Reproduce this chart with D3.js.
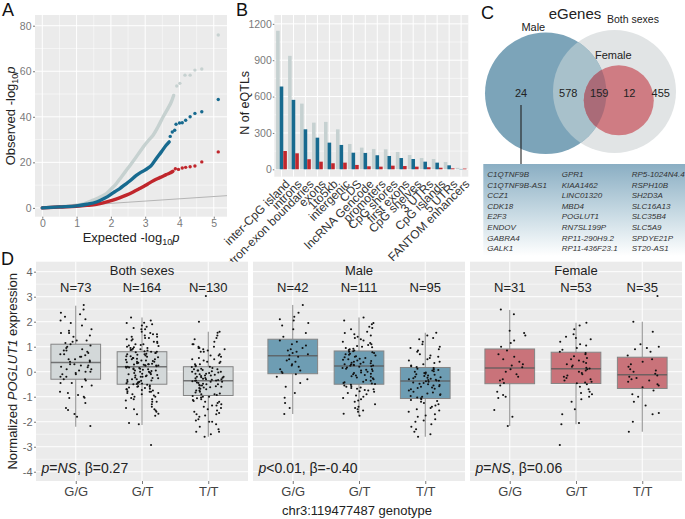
<!DOCTYPE html>
<html><head><meta charset="utf-8">
<script src="https://cdn.jsdelivr.net/npm/d3@7"></script>
<style>body{margin:0;background:#fff;} svg{display:block;}</style>
</head><body>
<script>
// ---------------- DATA ----------------
// Panel A: QQ plot (expected, observed) -log10 p
const qqBothDense = [[0,0],[0.5,0.5],[1.0,1.15],[1.25,2.0],[1.48,3.4],[1.7,4.9],[1.87,6.3],[2.0,8.2],[2.16,10.7],[2.3,13.5],[2.45,16.5],[2.6,19.5],[2.74,22.4],[2.86,25],[2.98,27.5],[3.1,29.7],[3.23,31.9],[3.37,35.5],[3.52,39.9],[3.66,43.6],[3.76,46.5],[3.83,49.4]];
const qqBothTail = [[3.92,53.5],[4.01,54.7],[4.16,58.3],[4.31,58.3],[4.45,60.5],[4.65,61],[5.13,75.9]];
const qqMaleDense = [[0,0],[0.5,0.45],[1.0,0.9],[1.3,1.6],[1.58,2.6],[1.8,4.1],[1.97,5.6],[2.1,7],[2.26,8.5],[2.4,10.1],[2.55,11.8],[2.74,14.3],[2.86,15.5],[2.98,16.5],[3.08,17.5],[3.18,18.7],[3.32,21.6],[3.47,24.6],[3.61,27.5],[3.7,29]];
const qqMaleTail = [[3.73,31.4],[3.79,33.3],[3.86,34.1],[3.9,36.7],[4.0,37.3],[4.08,37.4],[4.18,38.5],[4.31,40],[4.45,41.5],[4.65,42.2],[5.13,47.6]];
const qqFemaleDense = [[0,0],[0.5,0.4],[1.0,0.7],[1.3,1.1],[1.58,1.6],[1.8,2.3],[2.06,3.4],[2.25,4.4],[2.45,5.6],[2.65,7],[2.84,8.5],[3.0,9.8],[3.13,11],[3.25,12],[3.37,12.9],[3.5,13.8],[3.61,14.6],[3.72,15.3],[3.81,16.1]];
const qqFemaleTail = [[3.88,17.2],[3.97,16.9],[4.08,17.5],[4.18,17.8],[4.31,18.1],[4.45,18.4],[4.65,20.2],[5.13,24.6]];
const qqXTicks = [0,1,2,3,4,5];
const qqYTicks = [0,20,40,60,80];

// Panel B: eQTL counts per region
const regions = ["inter-CpG island","introns","intron-exon boundaries","exons","1to5kb","intergenic","CDS","lncRNA Gencode","promoters","CpG shores","first exons","CpG shelves","3 UTRs","CpG islands","5 UTRs","FANTOM enhancers"];
const eqtlBoth   = [1143,936,542,385,391,330,209,179,168,165,143,118,93,85,60,12];
const eqtlMale   = [683,573,330,261,220,201,137,135,116,110,93,85,63,55,33,3];
const eqtlFemale = [151,132,83,63,50,55,36,25,22,30,27,22,17,13,8,6];
const eqtlYTicks = [0,300,600,900,1200];

// Panel C: Venn counts and male-specific genes
const vennCounts = {maleOnly:24, maleBoth:578, allThree:159, femaleBoth:12, bothOnly:455};
const vennLabels = ["eGenes","Male","Both sexes","Female"];
const maleGenes1 = ["C1QTNF9B","C1QTNF9B-AS1","CCZ1","CDK18","E2F3","ENDOV","GABRA4","GALK1"];
const maleGenes2 = ["GPR1","KIAA1462","LINC01320","MBD4","POGLUT1","RN7SL199P","RP11-290H9.2","RP11-436F23.1"];
const maleGenes3 = ["RP5-1024N4.4","RSPH10B","SH2D3A","SLC16A13","SLC35B4","SLC5A9","SPDYE21P","ST20-AS1"];

// Panel D: POGLUT1 expression by genotype
const genotypes = ["G/G","G/T","T/T"];
const maleGG = [2.67,2.36,2.2,2.1,2.05,1.95,1.85,1.7,1.55,1.4,1.25,1.2,1.1,1.05,0.95,0.9,0.85,0.8,0.75,0.7,0.66,0.6,0.5,0.45,0.4,0.3,0.25,0.2,0.1,0.05,0.0,-0.05,-0.1,-0.2,-0.3,-0.45,-0.6,-0.85,-1.04,-1.25,-1.45,-1.69];
const maleGT = [2.17,2.05,1.95,1.9,1.8,1.75,1.7,1.6,1.55,1.5,1.45,1.4,1.35,1.3,1.25,1.2,1.15,1.1,1.07,1.03,1.0,0.98,0.95,0.92,0.9,0.87,0.85,
  0.82,0.8,0.78,0.75,0.72,0.7,0.68,0.65,0.62,0.6,0.58,0.55,0.52,0.5,0.48,0.45,0.43,0.4,0.38,0.36,0.34,0.32,0.3,0.29,0.28,0.26,0.25,0.24,
  0.22,0.2,0.17,0.15,0.12,0.1,0.08,0.05,0.03,0.0,-0.03,-0.05,-0.08,-0.1,-0.13,-0.15,-0.18,-0.2,-0.23,-0.26,-0.3,-0.33,-0.36,-0.4,-0.42,-0.45,-0.47,-0.49,
  -0.52,-0.55,-0.58,-0.6,-0.63,-0.65,-0.68,-0.7,-0.73,-0.75,-0.78,-0.8,-0.85,-0.9,-0.95,-1.0,-1.05,-1.1,-1.15,-1.2,-1.3,-1.4,-1.45,-1.5,-1.55,-1.6,-1.68,-1.76];
const maleTT = [1.56,1.45,1.35,1.3,1.2,1.1,1.0,0.95,0.9,0.85,0.8,0.7,0.65,0.6,0.55,0.5,0.45,0.4,0.35,0.3,0.25,0.22,0.19,
  0.15,0.12,0.1,0.07,0.05,0.02,0.0,-0.03,-0.05,-0.08,-0.1,-0.12,-0.15,-0.17,-0.2,-0.22,-0.24,-0.26,-0.28,-0.3,-0.32,-0.33,-0.35,-0.36,
  -0.38,-0.4,-0.43,-0.45,-0.48,-0.5,-0.53,-0.55,-0.58,-0.6,-0.63,-0.65,-0.68,-0.7,-0.75,-0.8,-0.83,-0.87,-0.9,-0.93,-0.97,-1.0,-1.03,-1.06,
  -1.1,-1.13,-1.17,-1.2,-1.25,-1.3,-1.35,-1.4,-1.45,-1.5,-1.55,-1.6,-1.7,-1.75,-1.8,-1.9,-1.95,-2.0,-2.1,-2.2,-2.3,-2.4,-2.5,-2.6];
const femaleGG = [2.49,2.3,1.64,1.55,1.45,1.25,1.15,1.0,0.85,0.7,0.6,0.5,0.4,0.3,0.25,0.18,0.1,0.0,-0.1,-0.2,-0.3,-0.35,-0.45,-0.55,-0.8,-0.93,-1.0,-1.05,-1.53,-1.8,-2.17];
const femaleGT = [1.96,1.85,1.7,1.5,1.4,1.35,1.3,1.2,1.1,1.05,0.95,0.88,0.8,0.75,0.7,0.62,0.55,0.5,0.45,0.4,0.35,0.3,0.25,0.2,0.16,0.13,
  0.1,0.05,0.0,-0.05,-0.1,-0.15,-0.2,-0.25,-0.3,-0.35,-0.4,-0.43,-0.46,-0.5,-0.6,-0.7,-0.8,-0.85,-0.9,-1.0,-1.1,-1.2,-1.5,-1.7,-2.05,-2.1,-2.93];
const femaleTT = [3.03,2.0,1.6,1.1,1.0,0.95,0.9,0.8,0.65,0.5,0.4,0.3,0.2,0.1,0.05,0.0,-0.08,-0.15,-0.2,-0.25,-0.3,-0.35,-0.4,-0.5,-0.55,-0.62,-0.75,-0.9,-1.0,-1.2,-1.35,-1.65,-1.7,-2.0,-2.4];
// box statistics: [q1, median, q3, whiskerLow, whiskerHigh]
const boxBoth   = [[-0.3,0.37,1.1,-2.2,2.64],[-0.5,0.2,0.8,-2.13,2.17],[-0.95,-0.36,0.2,-2.6,1.6]];
const boxMale   = [[-0.08,0.64,1.3,-1.69,2.67],[-0.5,0.23,0.83,-1.76,2.17],[-1.07,-0.37,0.17,-2.6,1.56]];
const boxFemale = [[-0.48,0.15,0.91,-2.17,2.47],[-0.47,0.12,0.78,-2.1,1.96],[-0.67,-0.12,0.58,-2.4,2.0]];
const facetNames = ["Both sexes","Male","Female"];
const facetP = ["NS","<0.01","NS"];
const facetBeta = ["0.27","-0.40","0.06"];
const exprYTicks = [-4,-3,-2,-1,0,1,2,3,4];

// ---------------- DRAWING ----------------
const FONT = "'Liberation Sans', Arial, Helvetica, sans-serif";
const PANEL_BG = "#ebebeb";
const svg = d3.select("body").append("svg").attr("width",685).attr("height",519)
  .style("font-family", FONT);
svg.append("rect").attr("width",685).attr("height",519).attr("fill","#fff");

function panelBg(x0,x1,y0,y1){
  svg.append("rect").attr("x",x0).attr("y",y0).attr("width",x1-x0).attr("height",y1-y0).attr("fill",PANEL_BG);
}
function hgrid(ys, x0, x1, w){
  svg.append("g").selectAll("line").data(ys).join("line")
    .attr("x1",x0).attr("x2",x1).attr("y1",d=>d).attr("y2",d=>d)
    .attr("stroke","#fff").attr("stroke-width",w);
}
function vgrid(xs, y0, y1, w){
  svg.append("g").selectAll("line").data(xs).join("line")
    .attr("y1",y0).attr("y2",y1).attr("x1",d=>d).attr("x2",d=>d)
    .attr("stroke","#fff").attr("stroke-width",w);
}
function styleAxis(g, color, size){
  g.select(".domain").remove();
  g.selectAll(".tick line").attr("stroke","#555").attr("stroke-width",0.8);
  g.selectAll(".tick text").attr("fill",color).attr("font-size",size).attr("font-family",FONT);
}
function panelLetter(t,x,y){
  svg.append("text").attr("x",x).attr("y",y).attr("font-size",18).attr("fill","#111").text(t);
}

// ===== Panel A =====
{
  const x0=35,x1=227,y0=15,y1=216.7;
  const ax = d3.scaleLinear().domain([-0.213,5.385]).range([x0,x1]);
  const ay = d3.scaleLinear().domain([-3.86,84.7]).range([y1,y0]);
  panelBg(x0,x1,y0,y1);
  hgrid([10,30,50,70].map(ay), x0,x1,0.5);
  vgrid([0.5,1.5,2.5,3.5,4.5].map(ax), y0,y1,0.5);
  hgrid(qqYTicks.map(ay), x0,x1,1);
  vgrid(qqXTicks.map(ax), y0,y1,1);
  // reference line y = x
  svg.append("line").attr("x1",ax(0)).attr("y1",ay(0)).attr("x2",ax(5.385)).attr("y2",ay(5.385))
    .attr("stroke","#b5b5b5").attr("stroke-width",1);
  const line = d3.line().x(d=>ax(d[0])).y(d=>ay(d[1])).curve(d3.curveMonotoneX);
  const series = [
    {dense:qqBothDense, tail:qqBothTail, color:"#c6d1d0"},
    {dense:qqFemaleDense, tail:qqFemaleTail, color:"#c0262c"},
    {dense:qqMaleDense, tail:qqMaleTail, color:"#176a8f"}
  ];
  series.forEach(s=>{
    svg.append("path").attr("d",line(s.dense)).attr("fill","none").attr("stroke",s.color)
      .attr("stroke-width",3.4).attr("stroke-linecap","round").attr("stroke-linejoin","round");
    svg.append("g").selectAll("circle").data(s.tail).join("circle")
      .attr("cx",d=>ax(d[0])).attr("cy",d=>ay(d[1])).attr("r",1.7).attr("fill",s.color);
  });
  const gx = svg.append("g").attr("transform",`translate(0,${y1})`)
    .call(d3.axisBottom(ax).tickValues(qqXTicks).tickSize(2).tickPadding(1).tickFormat(d=>String(d)));
  styleAxis(gx,"#7a7a7a",10.5);
  const gy = svg.append("g").attr("transform",`translate(${x0},0)`)
    .call(d3.axisLeft(ay).tickValues(qqYTicks).tickSize(2).tickPadding(1.5).tickFormat(d=>String(d)));
  styleAxis(gy,"#7a7a7a",10.5);
  // titles
  const tx = svg.append("text").attr("x",131).attr("y",241.5).attr("text-anchor","middle").attr("font-size",13).attr("fill","#222");
  tx.append("tspan").text("Expected -log");
  tx.append("tspan").attr("dy",3).attr("font-size",9).text("10");
  tx.append("tspan").attr("dy",-3).attr("font-style","italic").text("p");
  const ty = svg.append("text").attr("transform",`translate(14.5,${(y0+y1)/2}) rotate(-90)`).attr("text-anchor","middle").attr("font-size",13).attr("fill","#222");
  ty.append("tspan").text("Observed -log");
  ty.append("tspan").attr("dy",3).attr("font-size",9).text("10");
  ty.append("tspan").attr("dy",-3).attr("font-style","italic").text("p");
  panelLetter("A",2,16);
}

// ===== Panel B =====
{
  const x0=274.3,x1=468.3,y0=15,y1=176.7;
  const bx = d3.scalePoint().domain(regions).range([x0,x1]).padding(0.6);
  const step = bx.step();
  const by = d3.scaleLinear().domain([-61,1273]).range([y1,y0]);
  panelBg(x0,x1,y0,y1);
  hgrid([150,450,750,1050].map(by), x0,x1,0.5);
  hgrid(eqtlYTicks.map(by), x0,x1,1);
  vgrid(regions.map(bx), y0,y1,1);
  const bw = step*0.3;
  const groups = [{vals:eqtlBoth,color:"#c6d1d1",off:-1},{vals:eqtlMale,color:"#176a8f",off:0},{vals:eqtlFemale,color:"#c1272d",off:1}];
  groups.forEach(gr=>{
    svg.append("g").selectAll("rect").data(regions).join("rect")
      .attr("x",(d)=>bx(d)+gr.off*bw-bw/2)
      .attr("width",bw)
      .attr("y",(d,i)=>by(gr.vals[i]))
      .attr("height",(d,i)=>by(0)-by(gr.vals[i]))
      .attr("fill",gr.color);
  });
  const gy = svg.append("g").attr("transform",`translate(${x0},0)`)
    .call(d3.axisLeft(by).tickValues(eqtlYTicks).tickSize(1.5).tickPadding(1).tickFormat(d=>String(d)));
  styleAxis(gy,"#7a7a7a",10.5);
  // rotated x labels
  svg.append("g").selectAll("text").data(regions).join("text")
    .attr("transform",d=>`translate(${bx(d)+3},${y1+2}) rotate(-45)`)
    .attr("text-anchor","end").attr("dy","0.72em").attr("font-size",12).attr("fill","#333").text(d=>d);
  svg.append("text").attr("transform",`translate(249,${(y0+y1)/2+7}) rotate(-90)`).attr("text-anchor","middle")
    .attr("font-size",12.5).attr("fill","#222").text("N of eQTLs");
  panelLetter("B",236,16);
}

// ===== Panel C =====
{
  const defs = svg.append("defs");
  const male = {cx:545.7, cy:93.3, r:60.7};
  const both = {cx:614.5, cy:91.5, r:61.5};
  const fem  = {cx:618.8, cy:100.3, r:35};
  defs.append("clipPath").attr("id","clipBoth").append("circle").attr("cx",both.cx).attr("cy",both.cy).attr("r",both.r);
  defs.append("clipPath").attr("id","clipMale").append("circle").attr("cx",male.cx).attr("cy",male.cy).attr("r",male.r);
  const grad = defs.append("linearGradient").attr("id","geneGrad").attr("x1",0).attr("y1",0).attr("x2",0).attr("y2",1);
  grad.append("stop").attr("offset","0%").attr("stop-color","#8aaec3");
  grad.append("stop").attr("offset","55%").attr("stop-color","#c9dbe4");
  grad.append("stop").attr("offset","100%").attr("stop-color","#ffffff");

  const circ = (c,fill,clip)=>{ const e = svg.append("circle").attr("cx",c.cx).attr("cy",c.cy).attr("r",c.r).attr("fill",fill); if(clip) e.attr("clip-path",`url(#${clip})`); };
  circ(both,"#e1e4e5");
  circ(male,"#7ca4b9");
  circ(male,"#a8c1cb","clipBoth");
  circ(fem,"#cf7c83");
  circ(fem,"#aa6b78","clipMale");

  const t = (x,y,txt,size)=>svg.append("text").attr("x",x).attr("y",y).attr("font-size",size).attr("text-anchor","middle").attr("fill","#222").text(txt);
  t(575,18.5,vennLabels[0],15);
  t(533.3,30.5,vennLabels[1],11);
  t(633,23.3,vennLabels[2],10.5);
  t(613.3,59,vennLabels[3],11);
  t(521,96.7,vennCounts.maleOnly,11);
  t(568.3,96.7,vennCounts.maleBoth,11);
  t(599.3,96.7,vennCounts.allThree,11);
  t(629.3,96.7,vennCounts.femaleBoth,11);
  t(660.7,96.7,vennCounts.bothOnly,11);

  svg.append("rect").attr("x",483.3).attr("y",164).attr("width",201.7).attr("height",92).attr("fill","url(#geneGrad)");
  svg.append("line").attr("x1",521).attr("x2",521).attr("y1",105).attr("y2",164).attr("stroke","#222").attr("stroke-width",1.1);
  const cols = [{g:maleGenes1,x:487.3},{g:maleGenes2,x:561.7},{g:maleGenes3,x:631.7}];
  cols.forEach(c=>{
    svg.append("g").selectAll("text").data(c.g).join("text")
      .attr("x",c.x).attr("y",(d,i)=>177.2+i*10.55).attr("font-size",8).attr("font-style","italic")
      .attr("fill","#333").text(d=>d);
  });
  panelLetter("C",481,19);
}

// ===== Panel D =====
{
  const y0=261.7,y1=481;
  const dy = d3.scaleLinear().domain([-4.37,4.4]).range([y1,y0]);
  const facets = [
    {name:facetNames[0], data:[maleGG.concat(femaleGG), maleGT.concat(femaleGT), maleTT.concat(femaleTT)], box:boxBoth, fill:"#d3d8d9", x0:36, x1:248},
    {name:facetNames[1], data:[maleGG, maleGT, maleTT], box:boxMale, fill:"#6e9db3", x0:253, x1:465},
    {name:facetNames[2], data:[femaleGG, femaleGT, femaleTT], box:boxFemale, fill:"#c9737a", x0:470, x1:682}
  ];
  const rng = d3.randomLcg(0.4242);
  facets.forEach((f,fi)=>{
    const fx = d3.scalePoint().domain(genotypes).range([f.x0,f.x1]).padding(0.6);
    const step = fx.step();
    panelBg(f.x0,f.x1,y0,y1);
    hgrid(d3.range(-4,4,1).map(v=>dy(v+0.5)), f.x0,f.x1,0.5);
    hgrid(exprYTicks.map(dy), f.x0,f.x1,1);
    vgrid(genotypes.map(fx), y0,y1,1);
    const bw = step*0.75;
    genotypes.forEach((g,gi)=>{
      const [q1,med,q3,lo,hi] = f.box[gi];
      const cx = fx(g);
      svg.append("line").attr("x1",cx).attr("x2",cx).attr("y1",dy(hi)).attr("y2",dy(q3)).attr("stroke","#8a8a8a").attr("stroke-width",1);
      svg.append("line").attr("x1",cx).attr("x2",cx).attr("y1",dy(q1)).attr("y2",dy(lo)).attr("stroke","#8a8a8a").attr("stroke-width",1);
      svg.append("rect").attr("x",cx-bw/2).attr("width",bw).attr("y",dy(q3)).attr("height",dy(q1)-dy(q3))
        .attr("fill",f.fill).attr("stroke","#858585").attr("stroke-width",1);
      svg.append("line").attr("x1",cx-bw/2).attr("x2",cx+bw/2).attr("y1",dy(med)).attr("y2",dy(med))
        .attr("stroke","#5a5a5a").attr("stroke-opacity",0.8).attr("stroke-width",1.6);
      svg.append("g").selectAll("circle").data(f.data[gi]).join("circle")
        .attr("cx",()=>cx+(rng()-0.5)*step*0.5).attr("cy",d=>dy(d)).attr("r",1.05).attr("fill","#111");
      svg.append("text").attr("x",cx).attr("y",292).attr("text-anchor","middle").attr("font-size",13).attr("fill","#222")
        .text("N="+f.data[gi].length);
    });
    svg.append("text").attr("x",(f.x0+f.x1)/2).attr("y",275).attr("text-anchor","middle").attr("font-size",13).attr("fill","#222").text(f.name);
    const pt = svg.append("text").attr("x",f.x0+5.5).attr("y",472.5).attr("font-size",14).attr("fill","#222");
    pt.append("tspan").attr("font-style","italic").text("p");
    if(facetP[fi]==="NS"){ pt.append("tspan").text("="); pt.append("tspan").attr("font-style","italic").text("NS"); }
    else pt.append("tspan").text(facetP[fi]);
    pt.append("tspan").text(", β="+facetBeta[fi]);
    const gx = svg.append("g").attr("transform",`translate(0,${y1})`)
      .call(d3.axisBottom(fx).tickSize(3).tickPadding(3));
    styleAxis(gx,"#444",13);
    if(fi===0){
      const gy = svg.append("g").attr("transform",`translate(${f.x0},0)`)
        .call(d3.axisLeft(dy).tickValues(exprYTicks).tickSize(2).tickPadding(1.5).tickFormat(d=>String(d)));
      styleAxis(gy,"#666",11);
    }
  });
  const ty = svg.append("text").attr("transform",`translate(16.5,${(y0+y1)/2}) rotate(-90)`).attr("text-anchor","middle").attr("font-size",13).attr("fill","#222");
  ty.append("tspan").text("Normalized ");
  ty.append("tspan").attr("font-style","italic").text("POGLUT1");
  ty.append("tspan").text(" expression");
  svg.append("text").attr("x",357).attr("y",514.5).attr("text-anchor","middle").attr("font-size",13).attr("fill","#222").text("chr3:119477487 genotype");
  panelLetter("D",1,265);
}
</script>
</body></html>
